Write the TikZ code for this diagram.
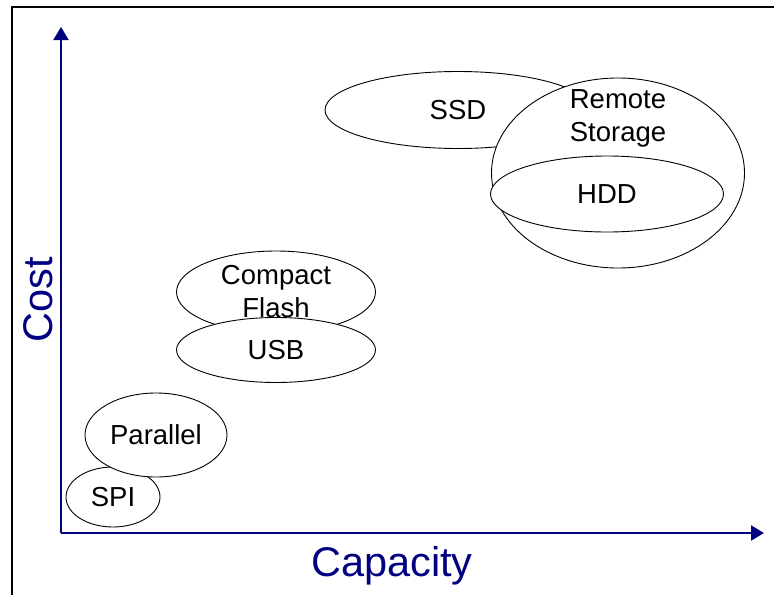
\documentclass[tikz,border=0pt]{standalone}
\usepackage{fontspec}
\setmainfont{Liberation Sans}
\usetikzlibrary{arrows.meta, shapes.geometric}
\definecolor{axisblue}{RGB}{0,0,128}

\begin{document}
\begin{tikzpicture}[x=1pt, y=-1pt,
        store/.style={ellipse, draw=black, fill=white, line width=0.9pt,
                      inner sep=0pt, align=center,
                      font=\fontsize{27.5}{33}\selectfont},
        axislabel/.style={text=axisblue, font=\fontsize{41.5}{46}\selectfont},
        axis/.style={draw=axisblue, line width=2pt,
                     -{Triangle[length=13pt, width=15pt]}},
        >=Stealth
    ]
        \useasboundingbox (0,0) rectangle (774,595);
        \draw[line width=2.2pt] (12,595) -- (12,7) -- (774,7);

        % axes
        \coordinate (origin) at (61,533);
        \coordinate (costend) at (61,27);
        \coordinate (capend) at (764,533);
        \draw[axis] (origin) -- (costend);
        \draw[axis] (origin) -- (capend);
        \node[axislabel, rotate=90] (cost) at (38,300) {Cost};
        \node[axislabel] (capacity) at (392,566) {Capacity};

        % storage kinds
        \node[store, minimum width=266pt, minimum height=77pt] (ssd) at (458,110) {SSD};
        \node[store, minimum width=253pt, minimum height=190pt] (remote) at (618,173) {};
        \node[font=\fontsize{27.5}{33}\selectfont, align=center] (remotetext) at (618,118) {Remote\\Storage};
        \node[store, minimum width=233pt, minimum height=76pt] (hdd) at (607,194) {HDD};

        \node[store, minimum width=199pt, minimum height=82pt] (cf) at (276,292) {Compact\\Flash};
        \node[store, minimum width=199pt, minimum height=65pt] (usb) at (276,350) {USB};

        \node[store, minimum width=94pt, minimum height=60pt] (spi) at (113,497) {SPI};
        \node[store, minimum width=142pt, minimum height=84pt] (parallel) at (156,435) {Parallel};
    \end{tikzpicture}
\end{document}
